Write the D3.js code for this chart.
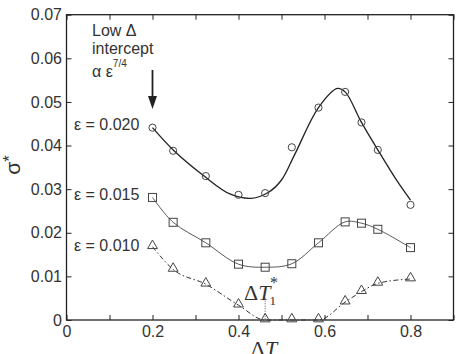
<!DOCTYPE html>
<html>
<head>
<meta charset="utf-8">
<script src="https://cdn.jsdelivr.net/npm/d3@7"></script>
<style>
  html, body { margin: 0; padding: 0; background: #fff; }
  svg { display: block; font-family: "Liberation Sans", Arial, sans-serif; }
</style>
</head>
<body>
<div id="chart"></div>
<script>
// measured points (ΔT, σ*)
const dT = [0.2, 0.248, 0.324, 0.4, 0.462, 0.524, 0.586, 0.648, 0.686, 0.724, 0.8];
const eps020 = [0.0441, 0.0388, 0.0330, 0.0287, 0.0291, 0.0396, 0.0487, 0.0523, 0.0453, 0.0390, 0.0264];
const eps015 = [0.0281, 0.0224, 0.0177, 0.0128, 0.0121, 0.0129, 0.0177, 0.0225, 0.0222, 0.0208, 0.0166];
const eps010 = [0.0168, 0.0116, 0.0082, 0.0034, 0.0, 0.0, 0.0, 0.0041, 0.0065, 0.0084, 0.0094];

// fitted curve for ε = 0.020
const fitX = [0.2, 0.25, 0.32, 0.38, 0.43, 0.47, 0.5, 0.53, 0.586, 0.63, 0.648, 0.686, 0.724, 0.768, 0.8];
const fitY = [0.0441, 0.0388, 0.0330, 0.0289, 0.0279, 0.0293, 0.0321, 0.0378, 0.0487, 0.0531, 0.0523, 0.0453, 0.0390, 0.0320, 0.0275];

const xTicks = [0, 0.1, 0.2, 0.3, 0.4, 0.5, 0.6, 0.7, 0.8, 0.9];
const xTickLabels = ["0", "", "0.2", "", "0.4", "", "0.6", "", "0.8", ""];
const yTicks = [0, 0.01, 0.02, 0.03, 0.04, 0.05, 0.06, 0.07];
const yTickLabels = ["0", "0.01", "0.02", "0.03", "0.04", "0.05", "0.06", "0.07"];

const seriesLabels = ["ε = 0.020", "ε = 0.015", "ε = 0.010"];
const markedT1 = 0.462;   // ΔT1* position

const width = 467, height = 354;
const margin = { top: 14.7, right: 13.5, bottom: 34, left: 66.5 };

const svg = d3.select("#chart").append("svg")
    .attr("width", width)
    .attr("height", height);

const x = d3.scaleLinear().domain([0, 0.9]).range([margin.left, width - margin.right]);
const y = d3.scaleLinear().domain([0, 0.07]).range([height - margin.bottom, margin.top]);

const ink = "#222";

// axes, ticks point inward
const fmtX = d => xTickLabels[xTicks.indexOf(d)];
const fmtY = d => yTickLabels[yTicks.indexOf(d)];

function styleAxis(g) {
    g.select(".domain").remove();
    g.selectAll(".tick line").attr("stroke", ink).attr("stroke-width", 1);
    g.selectAll("text").attr("fill", "#333").style("font-size", "16px")
        .style("font-family", "'Liberation Sans', Arial, sans-serif");
}

svg.append("g")
    .attr("transform", `translate(0,${y(0)})`)
    .call(d3.axisBottom(x).tickValues(xTicks).tickFormat(fmtX).tickSizeInner(-5).tickSizeOuter(0).tickPadding(6))
    .call(styleAxis);

svg.append("g")
    .attr("transform", `translate(0,${y(0.07)})`)
    .call(d3.axisTop(x).tickValues(xTicks).tickFormat("").tickSizeInner(-5).tickSizeOuter(0))
    .call(styleAxis);

svg.append("g")
    .attr("transform", `translate(${x(0)},0)`)
    .call(d3.axisLeft(y).tickValues(yTicks).tickFormat(fmtY).tickSizeInner(-5).tickSizeOuter(0).tickPadding(4.5))
    .call(styleAxis);

svg.append("g")
    .attr("transform", `translate(${x(0.9)},0)`)
    .call(d3.axisRight(y).tickValues(yTicks).tickFormat("").tickSizeInner(-5).tickSizeOuter(0))
    .call(styleAxis);

svg.append("rect")
    .attr("x", x(0)).attr("y", y(0.07))
    .attr("width", x(0.9) - x(0)).attr("height", y(0) - y(0.07))
    .attr("fill", "none").attr("stroke", ink).attr("stroke-width", 1.3);

// lines
const pts = vals => dT.map((t, i) => [t, vals[i]]);
const fit020 = fitX.map((t, i) => [t, fitY[i]]);

const lineCR = d3.line().x(d => x(d[0])).y(d => y(d[1])).curve(d3.curveCatmullRom.alpha(0.5));
const lineMono = d3.line().x(d => x(d[0])).y(d => y(d[1])).curve(d3.curveMonotoneX);

svg.append("path").datum(fit020)
    .attr("fill", "none").attr("stroke", "#222").attr("stroke-width", 1.3)
    .attr("d", lineCR);

svg.append("path").datum(pts(eps015))
    .attr("fill", "none").attr("stroke", "#444").attr("stroke-width", 0.9)
    .attr("d", lineCR);

svg.append("path").datum(pts(eps010))
    .attr("fill", "none").attr("stroke", "#333").attr("stroke-width", 1)
    .attr("stroke-dasharray", "5,2.5,1.5,2.5")
    .attr("d", lineMono);

// markers
const mk = "#444";
svg.append("g").selectAll("circle")
    .data(pts(eps020)).enter().append("circle")
    .attr("cx", d => x(d[0])).attr("cy", d => y(d[1]))
    .attr("r", 3.6)
    .attr("fill", "none").attr("stroke", mk).attr("stroke-width", 1);

svg.append("g").selectAll("rect")
    .data(pts(eps015)).enter().append("rect")
    .attr("x", d => x(d[0]) - 4).attr("y", d => y(d[1]) - 4)
    .attr("width", 8).attr("height", 8)
    .attr("fill", "none").attr("stroke", mk).attr("stroke-width", 1);

const tri = d3.symbol().type(d3.symbolTriangle).size(42);
svg.append("g").selectAll("path")
    .data(pts(eps010)).enter().append("path")
    .attr("transform", d => `translate(${x(d[0])},${y(d[1]) - 1})`)
    .attr("d", tri)
    .attr("fill", "none").attr("stroke", mk).attr("stroke-width", 1);

// series labels
const labelY = [130, 200, 251];
svg.append("g").selectAll("text")
    .data(seriesLabels).enter().append("text")
    .attr("x", 74).attr("y", (d, i) => labelY[i])
    .attr("fill", "#333").style("font-size", "16px")
    .text(d => d);

// annotation: Low Δ intercept α ε^7/4
const note = svg.append("text").attr("fill", "#333").style("font-size", "16px");
note.append("tspan").attr("x", 92).attr("y", 36).text("Low Δ");
note.append("tspan").attr("x", 92).attr("y", 54).text("intercept");
note.append("tspan").attr("x", 92).attr("y", 77).text("α ε");
note.append("tspan").attr("dy", -10).style("font-size", "10px").text("7/4");

// arrow
svg.append("line")
    .attr("x1", x(0.2)).attr("x2", x(0.2))
    .attr("y1", 70).attr("y2", 98)
    .attr("stroke", "#222").attr("stroke-width", 1.8);
svg.append("path")
    .attr("d", `M${x(0.2) - 4.5},96 L${x(0.2) + 4.5},96 L${x(0.2)},109 Z`)
    .attr("fill", "#222");

// ΔT1* marker
svg.append("line")
    .attr("x1", x(markedT1)).attr("x2", x(markedT1))
    .attr("y1", y(0.005)).attr("y2", y(0))
    .attr("stroke", "#555").attr("stroke-width", 1)
    .attr("stroke-dasharray", "1,1.5");

const t1 = svg.append("text")
    .attr("x", 244).attr("y", 300)
    .attr("fill", "#333")
    .style("font-family", "'Liberation Serif', 'Times New Roman', serif")
    .style("font-size", "22px");
t1.append("tspan").text("Δ");
t1.append("tspan").style("font-style", "italic").text("T");
t1.append("tspan").attr("dx", -1).attr("dy", 5).style("font-size", "13px").text("1");
t1.append("tspan").attr("dx", -6).attr("dy", -17).style("font-size", "16px").text("*");

// axis titles
const xt = svg.append("text")
    .attr("x", 264).attr("y", 356)
    .attr("text-anchor", "middle")
    .attr("fill", "#333")
    .style("font-family", "'Liberation Serif', 'Times New Roman', serif")
    .style("font-size", "22px");
xt.append("tspan").text("Δ");
xt.append("tspan").style("font-style", "italic").text("T");

const yt = svg.append("text")
    .attr("transform", `translate(20,165) rotate(-90)`)
    .attr("text-anchor", "middle")
    .attr("fill", "#333")
    .style("font-size", "21px");
yt.append("tspan").text("σ");
yt.append("tspan").attr("dy", -5).style("font-size", "17px").text("*");
</script>
</body>
</html>
